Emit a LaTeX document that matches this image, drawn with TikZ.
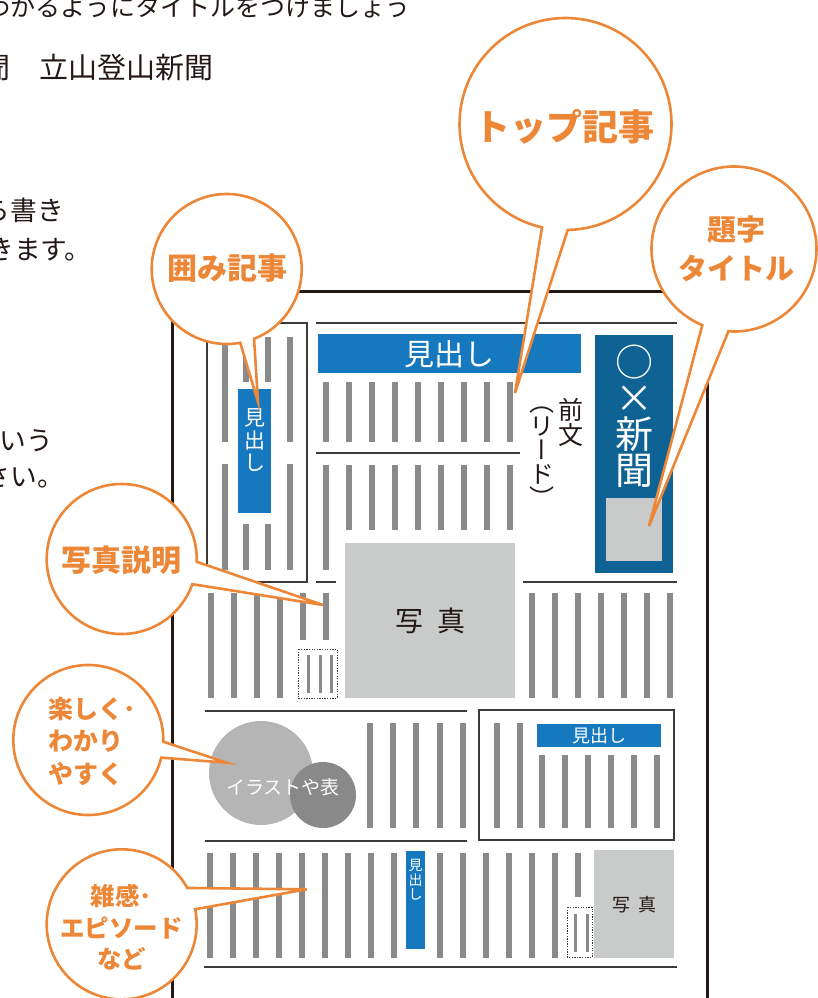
\documentclass[tikz,border=0pt]{standalone}
\usepackage{fontspec}
\setmainfont{Noto Sans CJK JP}
\newfontfamily\jpvert{Noto Sans CJK JP}[RawFeature=+vert]
\usetikzlibrary{positioning,calc}

\definecolor{calloutorange}{RGB}{237,135,56}
\definecolor{headblue}{RGB}{22,120,190}
\definecolor{titleblue}{RGB}{15,98,148}
\definecolor{bargray}{RGB}{138,138,138}
\definecolor{photogray}{RGB}{201,202,202}
\definecolor{inkblack}{RGB}{35,24,21}
\definecolor{rulegray}{RGB}{62,58,57}
\definecolor{illustlight}{RGB}{181,181,182}
\definecolor{illustdark}{RGB}{137,137,137}

\newcommand{\pxfont}[2]{\fontsize{#1}{#2}\selectfont}

\begin{document}
\begin{tikzpicture}[
    x=1pt, y=1pt,
    paper/.style={draw=inkblack, line width=3pt},
    rule/.style={draw=rulegray, line width=1.3pt},
    dotbox/.style={draw=rulegray, line width=0.7pt, dash pattern=on 1.3pt off 1.3pt},
    bar/.style={fill=bargray},
    headbox/.style={rectangle, fill=headblue, text=white, inner sep=0pt, anchor=north west},
    photobox/.style={rectangle, fill=photogray, text=inkblack, inner sep=0pt, anchor=north west},
    bodytext/.style={text=inkblack, inner sep=0pt},
    vtext/.style={align=center, inner sep=0pt},
    bubble/.style={draw=calloutorange, line width=2.6pt, fill=white},
    bubbletext/.style={text=calloutorange, font=\bfseries, align=center, inner sep=0pt},
]
\useasboundingbox (0,0) rectangle (818,-998);

% guide text on the left (cut off by the page)
\node[bodytext, anchor=west, font=\pxfont{25}{25}] (guide1) at (-15,-7.5) {わかるようにタイトルをつけましょう};
\node[bodytext, anchor=west, font=\pxfont{29}{29}] (guide2) at (-48,-67.5) {新聞　立山登山新聞};
\node[bodytext, anchor=west, font=\pxfont{26.7}{26.7}] (guide3) at (-16.4,-210.5) {ら書き};
\node[bodytext, anchor=west, font=\pxfont{26.7}{26.7}] (guide4) at (-12.7,-249.5) {きます。};
\node[bodytext, anchor=west, font=\pxfont{26.7}{26.7}] (guide5) at (-27,-440.5) {という};
\node[bodytext, anchor=west, font=\pxfont{26.7}{26.7}] (guide6) at (-43,-477) {ださい。};

% paper
\draw[paper] (172.7,-998) -- (172.7,-291.5) -- (707,-291.5) -- (707,-998);

% Row 1: boxed article
\draw[rule] (207,-323) rectangle (307,-582);
\foreach \k in {0,3} {
  \fill[bar] ({221.5+21.7*\k},-337) rectangle ++(6,-105);
  \fill[bar] ({221.5+21.7*\k},-464) rectangle ++(6,-106);
}
\foreach \k in {1,2} {
  \fill[bar] ({221.5+21.7*\k},-337) rectangle ++(6,-45);
  \fill[bar] ({221.5+21.7*\k},-524) rectangle ++(6,-46);
}
\fill[headblue] (238,-389) rectangle (271,-513);
\node[vtext, text=white, font=\pxfont{21}{22.5}] (boxedhead) at (254.5,-440.5) {見\\出\\し};

% Row 1: top story
\draw[rule] (315.7,-323) -- (677,-323);
\node[headbox, minimum width=263pt, minimum height=39pt, font=\pxfont{30}{30}] (mainhead) at (318,-334) {見出し};
\foreach \k in {0,...,8} {
  \fill[bar] ({323.3+23*\k},-382) rectangle ++(6,-60);
  \fill[bar] ({323.3+23*\k},-465) rectangle ++(6,-65);
}
\fill[bar] (323.3,-530) rectangle ++(6,-40);
\draw[rule] (315.7,-453) -- (520,-453);
\node[photobox, minimum width=170pt, minimum height=155pt, font=\pxfont{28}{28}] (mainphoto) at (345,-543) {写\hspace{0.5em}真};
\node[vtext, text=inkblack, font=\jpvert\pxfont{25}{25}] (lead) at (571,-422) {前\\文};
\node[vtext, text=inkblack, font=\jpvert\pxfont{25}{24}] (leadsub) at (541.7,-457.5) {（\\リ\\ー\\ド\\）};

% Row 1: title
\fill[titleblue] (595,-335) rectangle (673,-573);
\fill[photogray] (606,-498) rectangle (662,-561);
\node[vtext, text=white, font=\pxfont{38}{36}] (papertitle) at (634.5,-416) {○\\×\\新\\聞};

\draw[rule] (315.7,-582) -- (335.5,-582);
\draw[rule] (523,-582) -- (677,-582);

% Row 2
\foreach \k in {0,...,3}
  \fill[bar] ({208.3+23*\k},-593) rectangle ++(6,-105);
\foreach \k in {4,5}
  \fill[bar] ({208.3+23*\k},-593) rectangle ++(6,-47);
\draw[dotbox] (298,-649) rectangle (337,-698);
\foreach \k in {0,1,2}
  \fill[bar] ({306.8+11.7*\k},-655) rectangle ++(3,-38);
\foreach \k in {0,...,6}
  \fill[bar] ({529+23*\k},-593) rectangle ++(6,-105);

% Row 3
\draw[rule] (205,-711) -- (467,-711);
\fill[illustlight] (261,-773) circle (52);
\fill[illustdark] (323,-795) circle (33);
\node[bodytext, text=white, font=\pxfont{19}{19}] (illust) at (283,-787) {イラストや表};
\foreach \k in {0,...,4}
  \fill[bar] ({367+23.2*\k},-723) rectangle ++(6,-105);
\draw[rule] (479,-710) rectangle (674,-840);
\foreach \k in {0,1}
  \fill[bar] ({493.7+23.3*\k},-723) rectangle ++(6,-105);
\node[headbox, minimum width=124pt, minimum height=23pt, font=\pxfont{18}{18}] (sidehead) at (537,-724) {見出し};
\foreach \k in {0,...,5}
  \fill[bar] ({538.7+23*\k},-755) rectangle ++(6,-73);
\draw[rule] (205,-841) -- (467,-841);

% Row 4
\foreach \k in {0,...,8,10,11,12,13,14,15}
  \fill[bar] ({207+23*\k},-853) rectangle ++(6,-105);
\fill[bar] (575,-853) rectangle ++(6,-44);
\fill[headblue] (406,-851) rectangle (425,-949);
\node[vtext, text=white, font=\pxfont{14}{14.5}] (smallhead) at (415.5,-880) {見\\出\\し};
\draw[dotbox] (567,-907) rectangle (592,-957);
\foreach \k in {0,1}
  \fill[bar] ({573.5+12*\k},-914) rectangle ++(3,-38);
\node[photobox, minimum width=80pt, minimum height=108pt, font=\pxfont{18}{18}] (smallphoto) at (594,-850) {写\hspace{0.45em}真};
\draw[rule] (204,-967) -- (677,-967);

% callouts
\coordinate (cTop) at (565.5,-124);
\coordinate (tipTop) at (515,-393);
\draw[bubble] (cTop) ++(-88.8:106) arc[start angle=-88.8, end angle=257.2, radius=106] -- (tipTop) -- cycle;
\node[bubbletext, font=\bfseries\pxfont{36}{36}] (topstory) at (564,-127) {トップ記事};

\coordinate (cTitle) at (734,-249);
\coordinate (tipTitle) at (649,-526);
\draw[bubble] (cTitle) ++(-93.9:82.5) arc[start angle=-93.9, end angle=247.4, radius=82.5] -- (tipTitle) -- cycle;
\node[bubbletext, font=\bfseries\pxfont{29}{39.5}] (titlelabel) at (736,-248.5) {題字\\タイトル};

\coordinate (cBoxed) at (226.7,-269);
\coordinate (tipBoxed) at (258,-402);
\draw[bubble] (cBoxed) ++(-68.6:75) arc[start angle=-68.6, end angle=280.4, radius=75] -- (tipBoxed) -- cycle;
\node[bubbletext, font=\bfseries\pxfont{30}{30}] (boxedlabel) at (227,-268.5) {囲み記事};

\coordinate (cCaption) at (121.7,-559);
\coordinate (tipCaption) at (323,-605);
\draw[bubble] (cCaption) ++(-2.1:75) arc[start angle=-2.1, end angle=340.4, radius=75] -- (tipCaption) -- cycle;
\node[bubbletext, font=\bfseries\pxfont{30}{30}] (captionlabel) at (121,-560.5) {写真説明};

\coordinate (cFun) at (88.3,-740);
\coordinate (tipFun) at (226.7,-762.7);
\draw[bubble] (cFun) ++(-1.3:75) arc[start angle=-1.3, end angle=346.4, radius=75] -- (tipFun) -- cycle;
\node[bubbletext, align=left, anchor=west, font=\bfseries\pxfont{25}{32.5}] (funlabel) at (48,-741) {楽しく･\\わかり\\やすく};

\coordinate (cEssay) at (121.7,-924.3);
\coordinate (tipEssay) at (306.7,-889.3);
\draw[bubble] (cEssay) ++(29.0:75) arc[start angle=29.0, end angle=371.6, radius=75] -- (tipEssay) -- cycle;
\node[bubbletext, font=\bfseries\pxfont{24.5}{31.5}] (essaylabel) at (121.5,-927.5) {雑感･\\エピソード\\など};
\end{tikzpicture}
\end{document}
